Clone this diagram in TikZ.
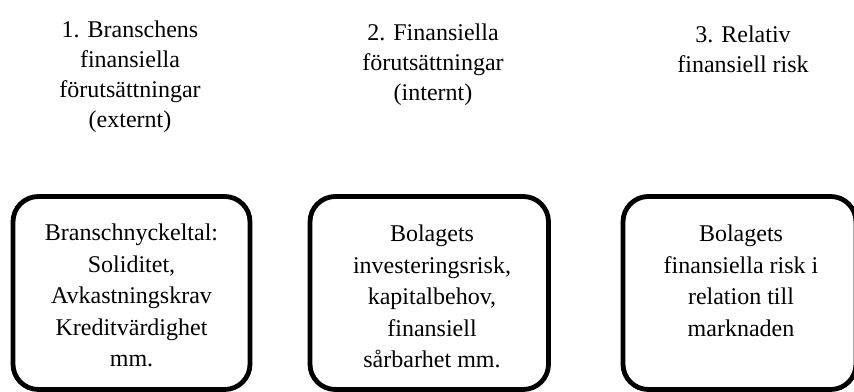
\documentclass[tikz,border=0pt]{standalone}
\usepackage{fontspec}
\setmainfont{Liberation Serif}

\begin{document}
\begin{tikzpicture}[x=0.75pt, y=0.75pt,
  heading/.style={font=\fontsize{18}{22.5}\selectfont, align=center, inner sep=0pt, anchor=north},
  frame/.style={draw=black, line width=3.6pt, rounded corners=19pt, minimum height=144.75pt},
  boxtext/.style={font=\fontsize{18}{23.6}\selectfont, align=center, inner sep=0pt, anchor=north}]
  \useasboundingbox (0,0) rectangle (854,392);
  % headings
  \node[heading] (h1) at (130,371) {1. Branschens\\finansiella\\förutsättningar\\(externt)};
  \node[heading] (h2) at (433,368) {2. Finansiella\\förutsättningar\\(internt)};
  \node[heading] (h3) at (743,366) {3. Relativ\\finansiell risk};
  % frames
  \node[frame, minimum width=177.75pt] (b1) at (131.5,99) {};
  \node[frame, minimum width=178.9pt] (b2) at (429.25,99) {};
  \node[frame, minimum width=174.75pt] (b3) at (739.5,99) {};
  % texts in the frames
  \node[boxtext] (t1) at (131.5,168) {Branschnyckeltal:\\Soliditet,\\Avkastningskrav\\Kreditvärdighet\\mm.};
  \node[boxtext] (t2) at (432,167) {Bolagets\\investeringsrisk,\\kapitalbehov,\\finansiell\\sårbarhet mm.};
  \node[boxtext] (t3) at (741,167) {Bolagets\\finansiella risk i\\relation till\\marknaden};
\end{tikzpicture}
\end{document}
